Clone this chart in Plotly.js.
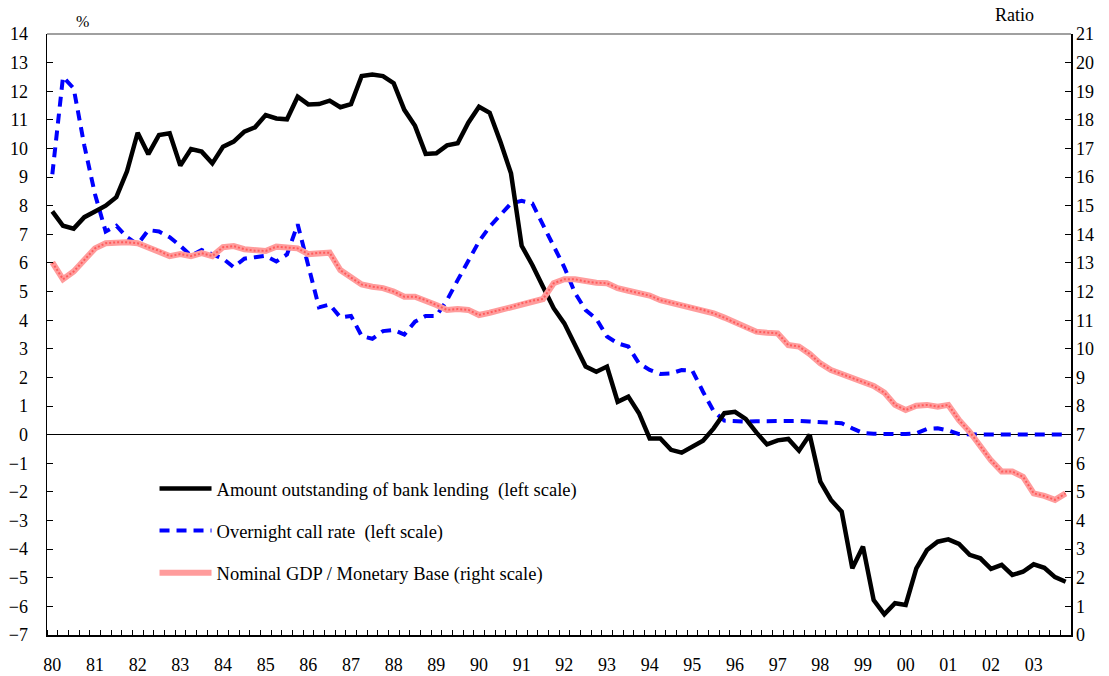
<!DOCTYPE html>
<html>
<head>
<meta charset="utf-8">
<script src="https://cdn.plot.ly/plotly-3.0.1.min.js"></script>
<style>html,body{margin:0;padding:0;background:#fff;}#chart{width:1109px;height:676px;}</style>
</head>
<body>
<div id="chart"></div>
<script>
// Quarterly data, 1980Q1 - 2003Q4
var years = [1980,1981,1982,1983,1984,1985,1986,1987,1988,1989,1990,1991,1992,1993,1994,1995,1996,1997,1998,1999,2000,2001,2002,2003];
var yearLabels = ['80','81','82','83','84','85','86','87','88','89','90','91','92','93','94','95','96','97','98','99','00','01','02','03'];

// Amount outstanding of bank lending, % (left scale)
var bankLending = [
  7.8, 7.3, 7.2, 7.6,
  7.8, 8.0, 8.3, 9.2,
  10.55, 9.8, 10.47, 10.53,
  9.4, 9.98, 9.89, 9.48,
  10.06, 10.24, 10.59, 10.74,
  11.17, 11.05, 11.02, 11.81,
  11.54, 11.55, 11.67, 11.44,
  11.55, 12.53, 12.58, 12.53,
  12.28, 11.35, 10.79, 9.81,
  9.83, 10.11, 10.18, 10.9,
  11.46, 11.25, 10.24, 9.13,
  6.6, 5.93, 5.17, 4.42,
  3.89, 3.13, 2.38, 2.2,
  2.38, 1.15, 1.33, 0.75,
  -0.13, -0.13, -0.53, -0.63,
  -0.42, -0.21, 0.22, 0.75,
  0.8, 0.55, 0.08, -0.34,
  -0.2, -0.15, -0.56, 0.0,
  -1.64, -2.28, -2.69, -4.67,
  -3.91, -5.78, -6.28, -5.89,
  -5.95, -4.67, -4.03, -3.74,
  -3.66, -3.82, -4.2, -4.32,
  -4.69, -4.55, -4.9, -4.79,
  -4.53, -4.65, -4.98, -5.14
];

// Overnight call rate, % (left scale)
var callRate = [
  9.1, 12.5, 12.1, 10.1,
  8.4, 7.1, 7.3, 6.9,
  6.65, 7.15, 7.1, 6.9,
  6.6, 6.25, 6.45, 6.3,
  6.15, 5.85, 6.15, 6.2,
  6.25, 6.05, 6.3, 7.35,
  5.9, 4.45, 4.55, 4.1,
  4.15, 3.45, 3.35, 3.62,
  3.66, 3.5, 3.95, 4.15,
  4.15, 4.7, 5.4, 6.1,
  6.75, 7.27, 7.68, 8.08,
  8.17, 8.08, 7.33, 6.57,
  5.85, 4.95, 4.35, 4.05,
  3.43, 3.19, 3.08, 2.49,
  2.26, 2.12, 2.14, 2.26,
  2.24, 1.5, 0.82, 0.49,
  0.47, 0.46, 0.47, 0.48,
  0.49, 0.49, 0.48, 0.46,
  0.44, 0.42, 0.4, 0.22,
  0.06, 0.03, 0.02, 0.02,
  0.02, 0.05, 0.2, 0.22,
  0.15, 0.02, 0.002, 0.002,
  0.002, 0.002, 0.002, 0.002,
  0.002, 0.002, 0.002, 0.002
];

// Nominal GDP / Monetary Base, ratio (right scale)
var gdpToBase = [
  13.02, 12.43, 12.7, 13.1,
  13.51, 13.69, 13.72, 13.72,
  13.69, 13.55, 13.43, 13.24,
  13.31, 13.24, 13.34, 13.24,
  13.55, 13.59, 13.48, 13.43,
  13.42, 13.57, 13.55, 13.51,
  13.31, 13.36, 13.36, 12.75,
  12.49, 12.25, 12.17, 12.12,
  12.0, 11.82, 11.82, 11.7,
  11.53, 11.36, 11.39, 11.36,
  11.18, 11.26, 11.36, 11.45,
  11.59, 11.68, 11.74, 12.29,
  12.43, 12.43, 12.35, 12.31,
  12.29, 12.12, 12.03, 11.94,
  11.86, 11.7, 11.61, 11.53,
  11.45, 11.36, 11.24, 11.09,
  10.91, 10.74, 10.6, 10.56,
  10.54, 10.13, 10.08, 9.82,
  9.49, 9.26, 9.12, 9.0,
  8.85, 8.7, 8.47, 8.04,
  7.86, 8.01, 8.04, 7.98,
  8.04, 7.51, 7.1, 6.61,
  6.1, 5.71, 5.71, 5.53,
  4.95, 4.86, 4.72, 4.95
];

var seriesNames = [
  'Amount outstanding of bank lending\u00a0 (left scale)',
  'Overnight call rate\u00a0 (left scale)',
  'Nominal GDP / Monetary Base (right scale)'
];

// quarter positions on a continuous year axis
var xq = [];
years.forEach(function (y) { for (var q = 0; q < 4; q++) xq.push(y + (q + 0.5) / 4); });
var labelVals = years.map(function (y) { return y + 0.125; });

var FONT = 'Liberation Serif, Times New Roman, serif';

var traces = [
  { x: xq, y: gdpToBase, yaxis: 'y2', type: 'scatter', mode: 'lines', name: seriesNames[2],
    line: { color: '#ff9c9c', width: 6 }, legendgroup: 'c', legendrank: 3 },
  { x: xq, y: gdpToBase, yaxis: 'y2', type: 'scatter', mode: 'lines', showlegend: false,
    line: { color: 'rgba(255,40,40,0.55)', width: 2, dash: '2px,2px' }, legendgroup: 'c', hoverinfo: 'skip' },
  { x: xq, y: callRate, type: 'scatter', mode: 'lines', name: seriesNames[1],
    line: { color: '#0000ff', width: 4, dash: '10px,7px' }, legendgroup: 'b', legendrank: 2 },
  { x: xq, y: bankLending, type: 'scatter', mode: 'lines', name: seriesNames[0],
    line: { color: '#000000', width: 4.5 }, legendgroup: 'a', legendrank: 1 }
];

var layout = {
  width: 1109, height: 676,
  margin: { l: 47, r: 38, t: 34, b: 41 },
  paper_bgcolor: '#ffffff', plot_bgcolor: '#ffffff',
  font: { family: FONT, size: 18, color: '#000' },
  showlegend: true,
  legend: { x: 0.105, y: 0.2745, xanchor: 'left', yanchor: 'top', bgcolor: 'rgba(0,0,0,0)',
            traceorder: 'grouped', tracegroupgap: 15, itemwidth: 52,
            font: { family: FONT, size: 18.5, color: '#000' } },
  xaxis: {
    range: [1980, 2004], showgrid: false, zeroline: false,
    showline: true, linecolor: '#000', linewidth: 1.5,
    tickmode: 'array', tickvals: labelVals, ticktext: yearLabels, ticks: '',
    ticklabelstandoff: 13,
    minor: { tickmode: 'linear', tick0: 1980, dtick: 0.25, ticks: 'inside', ticklen: 5, tickcolor: '#000', tickwidth: 1, showgrid: false },
    tickfont: { family: FONT, size: 18 }
  },
  yaxis: {
    range: [-7, 14], dtick: 1, tick0: 0, showgrid: false,
    zeroline: true, zerolinecolor: '#000', zerolinewidth: 1,
    showline: true, linecolor: '#000', linewidth: 1.5,
    ticks: 'inside', ticklen: 6, tickcolor: '#000',
    ticklabelstandoff: 14,
    tickfont: { family: FONT, size: 18 }
  },
  yaxis2: {
    range: [0, 21], dtick: 1, tick0: 0, overlaying: 'y', side: 'right', showgrid: false,
    zeroline: false, showline: true, linecolor: '#000', linewidth: 1.5,
    ticks: 'inside', ticklen: 6, tickcolor: '#000',
    tickfont: { family: FONT, size: 18 }
  },
  shapes: [
    { type: 'line', xref: 'paper', yref: 'paper', x0: 0, x1: 1, y0: 1, y1: 1, line: { color: '#808080', width: 1.5 } }
  ],
  annotations: [
    { text: '%', xref: 'paper', yref: 'paper', x: 0.035, y: 1.02, xanchor: 'center', yanchor: 'middle', showarrow: false, font: { family: FONT, size: 16 } },
    { text: 'Ratio', xref: 'paper', yref: 'paper', x: 0.945, y: 1.032, xanchor: 'center', yanchor: 'middle', showarrow: false, font: { family: FONT, size: 18 } }
  ]
};

Plotly.newPlot('chart', traces, layout, { displayModeBar: false, staticPlot: true });
</script>
</body>
</html>
